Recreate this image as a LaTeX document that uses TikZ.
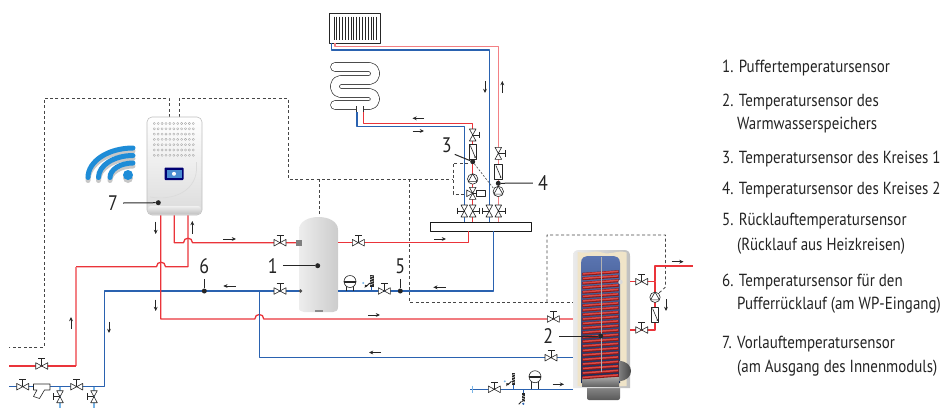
\documentclass[tikz,border=0pt]{standalone}
\usepackage{fontspec}
\setmainfont{PT Sans}[FakeStretch=0.855]
\usetikzlibrary{arrows.meta,calc}

\definecolor{pipered}{RGB}{234,52,58}
\definecolor{pipepink}{RGB}{243,128,132}
\definecolor{pipeblue}{RGB}{42,98,176}
\definecolor{pipesky}{RGB}{120,180,230}
\definecolor{ctrlgray}{RGB}{70,70,70}
\definecolor{ink}{RGB}{35,35,35}
\definecolor{wifiblue}{RGB}{30,140,215}
\definecolor{cream}{RGB}{240,228,200}
\definecolor{tankblue}{RGB}{35,70,150}
\definecolor{coilred}{RGB}{215,40,35}

\tikzset{
  hot/.style={draw=pipered, line width=1.3pt},
  hotlight/.style={draw=pipepink, line width=1.3pt},
  cold/.style={draw=pipeblue, line width=1.3pt},
  coldlight/.style={draw=pipesky, line width=1.3pt},
  ctrl/.style={draw=ctrlgray, line width=0.85pt, dash pattern=on 3pt off 2.4pt},
  flow/.style={draw=black!85, line width=0.8pt, -{Stealth[length=4.2pt,width=3.8pt]}},
  vline/.style={draw=black!85, line width=0.6pt},
  sdot/.style={circle, fill=black!85, inner sep=0pt, minimum size=5pt},
  lead/.style={draw=black!85, line width=1pt},
  numlbl/.style={font=\fontsize{21}{21}\selectfont, text=ink, inner sep=0pt},
  legend/.style={font=\fontsize{17.5}{20}\selectfont, text=ink, anchor=base west, inner sep=0pt},
  % ball valve on a horizontal pipe, handle up
  pics/hvalve/.style={code={
    \draw[vline] (0,0)--(0,-7.5) (-3.5,-7.5)--(3.5,-7.5);
    \draw[vline,fill=white] (-6,-3.3)--(6,3.3)--(6,-3.3)--(-6,3.3)--cycle;
  }},
  % ball valve on a vertical pipe, handle to the side given by #1 (1 right, -1 left)
  pics/vvalve/.style={code={
    \draw[vline] (0,0)--(#1*7,0) (#1*7,-3.3)--(#1*7,3.3);
    \draw[vline,fill=white] (-3.3,-6)--(3.3,6)--(-3.3,6)--(3.3,-6)--cycle;
  }},
  % circulation pump
  pics/pump/.style={code={
    \draw[vline,fill=white] (0,0) circle[radius=5.2];
    \draw[vline] (0,-5.2)--(-4.5,2.6)--(4.5,2.6)--cycle;
  }},
  % check valve
  pics/checkv/.style={code={
    \draw[vline,fill=white] (-3.6,-7.5) rectangle (3.6,7.5);
    \draw[vline] (-2.4,-6)--(2.4,5.4);
    \fill[black!85] (2.4,5.6) circle[radius=0.9];
  }},
  % three-way mixing valve with actuator
  pics/mixv/.style={code={
    \draw[vline] (0,0)--(4,0);
    \draw[vline,fill=white] (4,-2.6) rectangle (13,2.6);
    \draw[vline,fill=white] (-3.3,-6)--(3.3,6)--(-3.3,6)--(3.3,-6)--cycle;
    \draw[vline,fill=white] (0,0)--(-6,-3.3)--(-6,3.3)--cycle;
  }},
  % expansion vessel
  pics/expv/.style={code={
    \draw[vline,fill=white] (0,0) circle[radius=6];
    \draw[black!85,line width=2pt] (-6,0)--(6,0);
  }},
  % safety valve group
  pics/safetyv/.style={code={
    \draw[pipeblue, line width=1.2pt] (0,0)--(0,-4);
    \fill[black!85] (-1.8,-4) rectangle (1.8,-16);
    \foreach \k in {0,...,3} \draw[white, line width=0.5pt] (-1.8,-6-\k*2.6)--(1.8,-7.5-\k*2.6);
    \draw[black!85, line width=0.9pt] (-1.8,-8)--(-5.5,-4.5);
    \fill[black!85] (-7,-3)--(-4.2,-5.8)--(-6.8,-6.2)--cycle;
    \fill[pipesky] (-8.5,-8) circle[radius=1.1];
  }},
  % drain valve hanging below a pipe
  pics/drainv/.style={code={
    \draw[pipeblue, line width=1.2pt] (0,0)--(0,4);
    \fill[black!85] (-1.8,4) rectangle (1.8,13);
    \foreach \k in {0,...,2} \draw[white, line width=0.5pt] (-1.8,6+\k*2.6)--(1.8,7.5+\k*2.6);
    \fill[pipeblue] (0,14.5) circle[radius=1.2];
    \draw[black!85, line width=0.9pt] (-1.8,12)--(-4.5,15);
  }},
}

\begin{document}
\begin{tikzpicture}[x=1pt,y=-1pt,line join=round]
\useasboundingbox (0,0) rectangle (948,408);

% ---------------- control wiring ----------------
\draw[ctrl] (169,117)--(169,98)--(44,98)--(44,347)--(9,347);
\draw[ctrl] (179,117)--(179,98)--(288,98)--(288,179)--(453,179);
\draw[ctrl] (319,179)--(319,218);
\draw[ctrl] (409,179)--(409,302)--(573,302);
\draw[ctrl] (547,302)--(547,235)--(665.5,235)--(665.5,287)--(659,293);
\draw[ctrl] (468,163)--(453,163)--(453,194)--(466,194);

% ---------------- radiator ----------------
\node[draw=black!85, line width=0.8pt, fill=white, minimum width=51pt, minimum height=30pt, inner sep=0pt] (rad) at (354.5,28.3) {};
\foreach \i in {0,...,15} \draw[black!85, line width=0.6pt] (333.8+\i*2.85,16.5)--++(0,23.5);

% ---------------- floor heating loop ----------------
\begin{scope}[rounded corners=5.5pt]
\draw[black!80, line width=9.6pt, line cap=round] (335,67)--(375,67)--(375,80)--(335,80)--(335,93)--(375,93)--(375,105)--(335,105);
\draw[white, line width=8.2pt, line cap=round] (335,67)--(375,67)--(375,80)--(335,80)--(335,93)--(375,93)--(375,105)--(335,105);
\end{scope}
\draw[black!80, line width=7.4pt] (360,106)--(360,112);
\draw[white, line width=6pt] (360,104)--(360,112.5);

% ---------------- heating circuits ----------------
\draw[hotlight] (335,43.3)--(335,46.7)--(498.3,46.7)--(498.3,222.5);
\draw[cold] (331.7,43.3)--(331.7,50)--(489.3,50)--(489.3,222.5);
\draw[hot] (363.3,112)--(363.3,123.3)--(472.7,123.3)--(472.7,222.5);
\draw[cold] (357,112)--(357,126.7)--(464.3,126.7)--(464.3,222.5);

% manifold
\node[draw=black!90, line width=1pt, fill=white, minimum width=101pt, minimum height=8.5pt, inner sep=0pt] (hdr) at (481.3,226.8) {};

% fittings of circuit 1 (floor)
\pic at (472.7,135) {vvalve=1};
\pic at (472.7,151.5) {checkv};
\pic at (472.7,179) {pump};
\pic at (472.7,193.3) {mixv};
\pic at (464.3,211) {vvalve=-1};
\pic at (472.7,211) {vvalve=1};
% fittings of circuit 2 (radiator)
\pic at (498.3,153.3) {vvalve=1};
\pic at (498.3,171.5) {checkv};
\pic at (498.3,191.5) {pump};
\pic at (489.3,211) {vvalve=-1};
\pic at (498.3,211) {vvalve=1};

\node[sdot] (s3) at (472.7,161.7) {};
\node[sdot] (s4) at (498.3,183.3) {};
\draw[ctrl, line width=0.6pt, dash pattern=on 2pt off 1.6pt] (s3)--(494,189);

% ---------------- buffer tank ----------------
\shade[left color=black!7, middle color=white, right color=black!20]
  (299,312)--(299,230) .. controls (299,221) and (309,217) .. (318.5,217)
  .. controls (328,217) and (338,221) .. (338,230)--(338,307)
  .. controls (338,310.5) and (336,312) .. (333,312)--(304,312)
  .. controls (301,312) and (299,310.5) .. (299,307)--cycle;
\fill[black!45] (315,309.5) rectangle (323,311.5);

% indoor unit to buffer (flow)
\draw[hot] (174.3,215)--(174.3,242.7)--(183.5,242.7) .. controls (183.5,236.7) and (192.5,236.7) .. (192.5,242.7)--(299,242.7);
% buffer to manifold
\draw[hot] (338,242.7)--(468.3,242.7)--(468.3,231);
\draw[cold] (493.7,231)--(493.7,291)--(338,291);
% buffer return to indoor unit / outdoor line
\draw[cold] (299,291)--(104.5,291)--(104.5,386.7)--(9,386.7);
% return line from outdoor unit
\draw[hot] (188,215)--(188,266.7)--(165.5,266.7) .. controls (165.5,260.7) and (156.5,260.7) .. (156.5,266.7)--(76,266.7);
\draw[hotlight] (76,266.7)--(76,366);
\draw[hot] (76,366)--(9,366);
% flow to hot water coil
\draw[hot] (160.7,215)--(160.7,319)--(254.8,319) .. controls (254.8,313) and (263.8,313) .. (263.8,319)--(573,319);
% return from hot water coil
\draw[cold] (259.3,291)--(259.3,357.7)--(573,357.7);
% cold water inlet
\draw[cold] (470,389.3)--(573,389.3);
\draw[pipesky, line width=1pt] (472.7,385.5)--(472.7,393);

\fill[black!50] (296,240) rectangle (302,245.5);
\fill[black!70] (300.5,291) circle[radius=1.8];

\pic at (280,242.7) {hvalve};
\pic at (358.3,242.7) {hvalve};
\pic at (280,291) {hvalve};
\pic at (384.3,291) {hvalve};
\draw[vline] (346.5,284.5)--(346.5,291) (353.5,284.5)--(353.5,291);
\pic at (350,281.5) {expv};
\pic at (371.7,291) {safetyv};

% outdoor connections
\pic at (41.7,366) {hvalve};
\pic at (22.7,386.7) {hvalve};
\pic at (76.7,386.7) {hvalve};
\draw[vline,fill=white] (33.5,384)--(50,384)--(50,390)--(44.5,390)--(39.5,398.5)--(33.5,396.5)--(37,390)--(33.5,390)--cycle;
\draw[pipesky, line width=1.1pt] (60,386.7)--(60,408) (94,386.7)--(94,408);
\pic at (60,396.7) {vvalve=-1};
\pic at (94,396.7) {vvalve=-1};

% ---------------- hot water cylinder ----------------
\shade[top color=black!40, bottom color=black!65, rounded corners=2pt] (587,382) rectangle (620,400);
\shade[left color=black!8, middle color=white, right color=black!25]
  (573,388)--(573,256) .. controls (573,252) and (575,250) .. (579,250)--(624,250)
  .. controls (628,250) and (630,252) .. (630,256)--(630,388)--cycle;
\fill[cream] (577.5,386)--(577.5,252) .. controls (590,254.5) and (596,249.5) .. (602,252.5)
  .. controls (610,255.5) and (618,249.5) .. (626.5,252.5)--(626.5,386)--cycle;
\shade[top color=tankblue!75!white, bottom color=tankblue!60!black]
  (581,263) .. controls (581,257) and (585,256) .. (590,256)--(611,256)
  .. controls (616,256) and (620,257) .. (620,263)--(620,383)--(581,383)--cycle;
\shade[top color=black!35, bottom color=black!60] (582,377) rectangle (619,386);
\foreach \y in {273,277.5,...,380} {
  \draw[line width=3pt, coilred!65!black] (582.3,\y+1.3)--(618.7,\y-1.3);
  \draw[line width=1.5pt, coilred!85!white] (583,\y+0.9)--(618,\y-1.6);
}
\draw[black!30, line width=0.8pt] (601,257)--(601,372);
\shade[left color=black!50, right color=black!80] (619,361) .. controls (635,361) and (635,381) .. (619,381)--cycle;
\fill[black!15] (620.5,282) circle[radius=2.2];

\pic at (553.3,319) {hvalve};
\pic at (551,357.7) {hvalve};
\pic at (494.3,389.3) {hvalve};
\draw[vline] (531.5,381)--(531.5,389.3) (538.5,381)--(538.5,389.3);
\pic at (535,376.7) {expv};
\pic at (513.3,389.3) {safetyv};
\pic at (523.3,389.3) {drainv};

% hot water outlet and circulation
\draw[hot] (630,281.7)--(655,281.7)--(655,266)--(693.3,266);
\draw[hot] (630,330)--(655,330)--(655,281.7);
\pic at (641.7,281.7) {hvalve};
\pic at (641.7,330) {hvalve};
\pic at (655,314.5) {checkv};
\pic at (655,297.3) {pump};

% ---------------- indoor unit ----------------
\shade[top color=white, bottom color=black!14, draw=black!25, line width=0.6pt, rounded corners=5pt] (147,117) rectangle (202,215);
\shade[top color=black!6, bottom color=black!24, rounded corners=3pt] (148,206) rectangle (201,214);
\draw[black!14, line width=0.7pt] (150,197) .. controls (172,201) and (195,192) .. (196.5,170)--(196.5,162);
\foreach \r in {0,...,6} \foreach \c in {0,...,10}
  \draw[black!32, line width=0.4pt] (154.3+\c*3.9,123.5+\r*5.3) circle[radius=1.15];
\fill[blue!45!black, rounded corners=0.8pt] (164.5,167.5) rectangle (183.5,180);
\fill[cyan!55!blue!75] (166.5,169.5) rectangle (181.5,178);
\fill[white] (174,173.8) circle[radius=2];

% wireless symbol
\begin{scope}[line cap=round, line width=5pt]
\foreach \a/\b in {23/14.5, 34.5/22, 45/29.5}
  \draw[black!22] (133-\a,180.5) arc[start angle=180, end angle=270, x radius=\a, y radius=\b];
\fill[black!22] (128,178) circle[radius=5];
\foreach \a/\b in {23/14.5, 34.5/22, 45/29.5}
  \draw[wifiblue] (133-\a,177.5) arc[start angle=180, end angle=270, x radius=\a, y radius=\b];
\fill[wifiblue] (128,175) circle[radius=5];
\end{scope}

% ---------------- flow arrows ----------------
\draw[flow] (155.7,221.7)--(155.7,234);
\draw[flow] (192.3,233.5)--(192.3,221);
\draw[flow] (223.3,239)--(236,239);
\draw[flow] (434,239)--(446,239);
\draw[flow] (445.5,287.3)--(433.3,287.3);
\draw[flow] (235.5,286)--(223.3,286);
\draw[flow] (155.7,299.5)--(155.7,311);
\draw[flow] (71,329)--(71,317);
\draw[flow] (109,321.5)--(109,333);
\draw[flow] (368.3,315)--(380,315);
\draw[flow] (381,352.5)--(369,352.5);
\draw[flow] (552.7,384.3)--(564,384.3);
\draw[flow] (671.7,261.7)--(683.5,261.7);
\draw[flow] (666,299)--(666,311);
\draw[flow] (485,81)--(485,93);
\draw[flow] (502.3,93)--(502.3,81);
\draw[flow] (424,118.3)--(412.5,118.3);
\draw[flow] (412.5,131)--(424,131);

% ---------------- sensors and their numbers ----------------
\node[sdot] (s1) at (317.7,265.7) {};
\node[sdot] (s2) at (600.7,336) {};
\node[sdot] (s5) at (400.3,291) {};
\node[sdot] (s6) at (204.3,291) {};
\node[sdot] (s7) at (158.3,202.7) {};

\node[numlbl] (l1) at (272.7,265.7) {1};
\node[numlbl] (l2) at (548.3,336) {2};
\node[numlbl] (l3) at (446.7,145.7) {3};
\node[numlbl] (l4) at (543,183) {4};
\node[numlbl] (l5) at (400.3,266.5) {5};
\node[numlbl] (l6) at (204.3,266.5) {6};
\node[numlbl] (l7) at (113,203) {7};

\draw[lead] (l1.east) ++(5,0) -- (s1);
\draw[lead] (l2.east) ++(6,0) -- (s2);
\draw[lead] (l3.south east) ++(3,1) -- (s3);
\draw[lead] (l4.west) ++(-5,0) -- (s4);
\draw[lead] (l5.south) ++(0,5) -- (s5);
\draw[lead] (l6.south) ++(0,5) -- (s6);
\draw[lead] (l7.east) ++(5,0) -- (s7);

% ---------------- legend ----------------
\node[legend] (t1)  at (722,72)  {1. Puffertemperatursensor};
\node[legend] (t2)  at (722,106) {2. Temperatursensor des};
\node[legend] (t2b) at (737,129) {Warmwasserspeichers};
\node[legend] (t3)  at (722,163) {3. Temperatursensor des Kreises 1};
\node[legend] (t4)  at (722,194) {4. Temperatursensor des Kreises 2};
\node[legend] (t5)  at (722,225) {5. Rücklauftemperatursensor};
\node[legend] (t5b) at (737,250) {(Rücklauf aus Heizkreisen)};
\node[legend] (t6)  at (722,286) {6. Temperatursensor für den};
\node[legend] (t6b) at (737,309) {Pufferrücklauf (am WP-Eingang)};
\node[legend] (t7)  at (722,348) {7. Vorlauftemperatursensor};
\node[legend] (t7b) at (737,372) {(am Ausgang des Innenmoduls)};
\end{tikzpicture}
\end{document}
